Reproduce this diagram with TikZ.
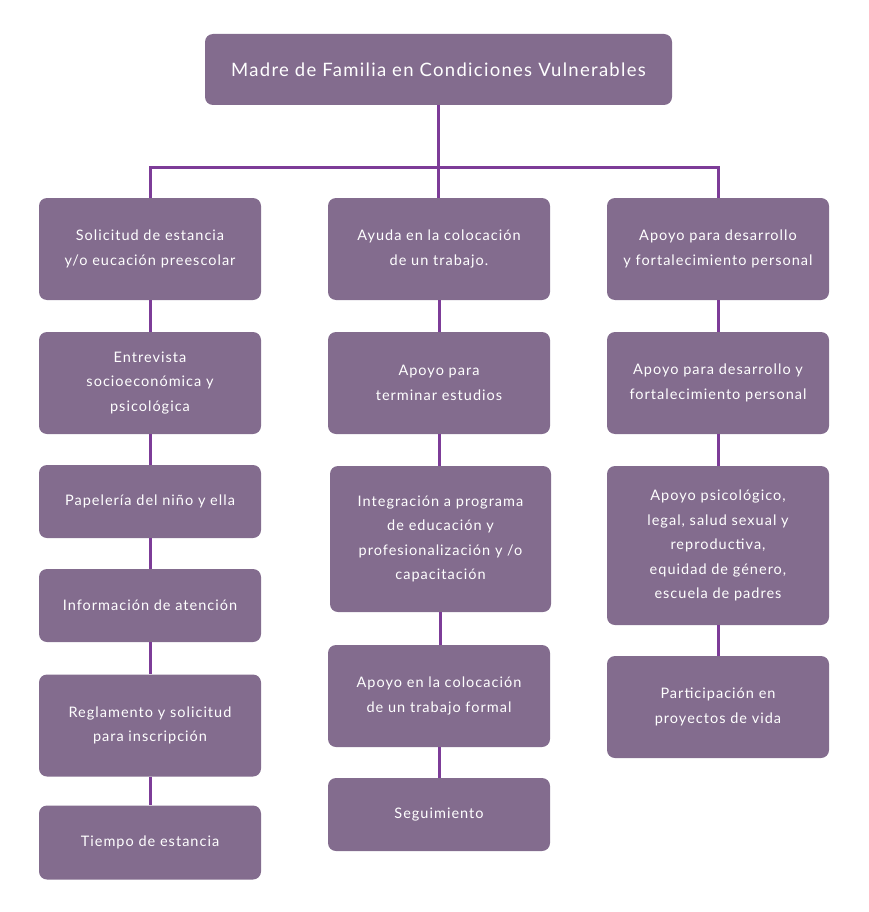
\documentclass[tikz,border=0pt]{standalone}
\usepackage{fontspec}
\setmainfont{Lato}[LetterSpace=7]
\usepackage{xcolor}
\definecolor{boxplum}{HTML}{836C8E}
\definecolor{linkplum}{HTML}{7D3C98}

\begin{document}
\begin{tikzpicture}[x=1pt, y=-1pt,
  stepbox/.style={rectangle, rounded corners=8pt, fill=boxplum, text=white,
    align=center, inner sep=0pt, minimum width=222pt, minimum height=102pt,
    font=\fontsize{14.5}{24.5}\selectfont},
  shortbox/.style={stepbox, minimum height=73pt},
  link/.style={linkplum, line width=3pt}]

  \useasboundingbox (0,0) rectangle (868,912);

  \node[stepbox, minimum width=467pt, minimum height=71pt,
    font=\fontsize{18.5}{24}\selectfont] (madre) at (438.5,69.5)
    {Madre de Familia en Condiciones Vulnerables};

  \node[stepbox] (sol) at (150,249) {Solicitud de estancia\\y/o eucación preescolar};
  \node[stepbox] (ent) at (150,383) {Entrevista\\socioeconómica y\\psicológica};
  \node[shortbox] (pap) at (150,501.5) {Papelería del niño y ella};
  \node[shortbox] (inf) at (150,605.5) {Información de atención};
  \node[stepbox] (reg) at (150,725.5) {Reglamento y solicitud\\para inscripción};
  \node[shortbox, minimum height=74pt] (tie) at (150,842.5) {Tiempo de estancia};

  \node[stepbox] (ayu) at (439,249) {Ayuda en la colocación\\de un trabajo.};
  \node[stepbox] (ter) at (439,383) {Apoyo para\\terminar estudios};
  \node[stepbox, minimum width=221pt, minimum height=146pt] (int) at (440.5,539)
    {Integración a programa\\de educación y\\profesionalización y /o\\capacitación};
  \node[stepbox] (col) at (439,696) {Apoyo en la colocación\\de un trabajo formal};
  \node[shortbox] (seg) at (439,814.5) {Seguimiento};

  \node[stepbox] (des) at (718,249) {Apoyo para desarrollo\\y fortalecimiento personal};
  \node[stepbox] (fort) at (718,383) {Apoyo para desarrollo y\\fortalecimiento personal};
  \node[stepbox, minimum height=159pt] (psi) at (718,545.5)
    {Apoyo psicológico,\\legal, salud sexual y\\reproductiva,\\equidad de género,\\escuela de padres};
  \node[stepbox] (par) at (718,707) {Participación en\\proyectos de vida};

  \draw[link] (madre.south) -- (madre.south |- ayu.north);
  \draw[link] (sol.north) -- ++(0,-30) -| (des.north);

  \draw[link] (sol) -- (ent);
  \draw[link] (ent) -- (pap);
  \draw[link] (pap) -- (inf);
  \draw[link] (inf) -- (reg);
  \draw[link] (reg) -- (tie);

  \draw[link] (ayu) -- (ter);
  \draw[link] (ter.south) -- (ter.south |- int.north);
  \draw[link] (int.south) -- (int.south |- col.north);
  \draw[link] (col) -- (seg);

  \draw[link] (des) -- (fort);
  \draw[link] (fort) -- (psi);
  \draw[link] (psi) -- (par);

\end{tikzpicture}
\end{document}
